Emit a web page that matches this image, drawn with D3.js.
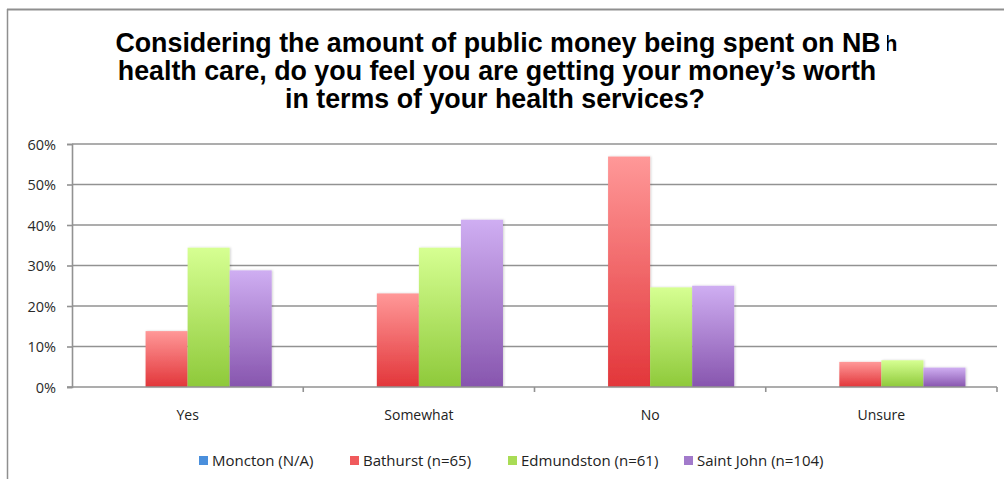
<!DOCTYPE html>
<html>
<head>
<meta charset="utf-8">
<script src="https://cdn.jsdelivr.net/npm/d3@7"></script>
<style>
  html, body { margin: 0; padding: 0; background: #fff; }
  svg { display: block; }
</style>
</head>
<body>
<svg id="chart" width="1004" height="479"></svg>
<script>
// Survey answers and share of respondents per city
const categories = ["Yes", "Somewhat", "No", "Unsure"];
const seriesNames = ["Moncton (N/A)", "Bathurst (n=65)", "Edmundston (n=61)", "Saint John (n=104)"];
const moncton    = [0, 0, 0, 0];
const bathurst   = [13.8, 23.1, 56.9, 6.2];
const edmundston = [34.4, 34.4, 24.6, 6.6];
const saintJohn  = [28.8, 41.3, 25.0, 4.8];
const yTicks = [0, 10, 20, 30, 40, 50, 60];
const titleLines = [
  "Considering the amount of public money being spent on NB",
  "health care, do you feel you are getting your money\u2019s worth",
  "in terms of your health services?"
];

const seriesValues = [moncton, bathurst, edmundston, saintJohn];
const colors = [
  { top: "#7fb6ec", bottom: "#3c7fce", swatch: "#4a8fdc" },
  { top: "#ff9898", bottom: "#e2363a", swatch: "#f05a5c" },
  { top: "#d6ff92", bottom: "#8ec93a", swatch: "#a9dc55" },
  { top: "#cfaef2", bottom: "#8755ae", swatch: "#a27acb" }
];

const svg = d3.select("#chart");
const W = 1004, H = 479;
const m = { left: 72, right: 997, top: 144, bottom: 387 };

// gradients for the bars
const defs = svg.append("defs");
colors.forEach((c, i) => {
  const g = defs.append("linearGradient")
    .attr("id", "grad" + i).attr("x1", 0).attr("y1", 0).attr("x2", 0).attr("y2", 1);
  g.append("stop").attr("offset", "0%").attr("stop-color", c.top);
  g.append("stop").attr("offset", "100%").attr("stop-color", c.bottom);
});
defs.append("filter").attr("id", "shadow")
  .attr("x", "-10%").attr("y", "-10%").attr("width", "130%").attr("height", "130%")
  .append("feDropShadow").attr("dx", 1).attr("dy", 0).attr("stdDeviation", 1)
  .attr("flood-color", "#000").attr("flood-opacity", 0.18);
defs.append("clipPath").attr("id", "hclip")
  .append("rect").attr("x", 887).attr("y", 20).attr("width", 20).attr("height", 40);

// slide frame
svg.append("line").attr("x1", 7).attr("x2", W).attr("y1", 9.5).attr("y2", 9.5)
  .attr("stroke", "#8f8f8f").attr("stroke-width", 2);
svg.append("line").attr("x1", 7.5).attr("x2", 7.5).attr("y1", 9).attr("y2", H)
  .attr("stroke", "#8f8f8f").attr("stroke-width", 1.5);

// title
const titleFont = "Liberation Sans, Arial, sans-serif";
const title = svg.append("text")
  .attr("font-family", titleFont)
  .attr("font-weight", "bold").attr("font-size", 26.8).attr("fill", "#000");
const titleY = [52, 80, 108];
const titleX = [498, 497, 495];
titleLines.forEach((t, i) => {
  title.append("tspan").attr("x", titleX[i]).attr("y", titleY[i])
    .attr("text-anchor", "middle").text(t);
});
// partly hidden trailing letter of the first title line
svg.append("text").attr("x", 884).attr("y", 51)
  .attr("font-family", titleFont).attr("font-weight", "bold").attr("font-size", 22)
  .attr("fill", "#000").attr("clip-path", "url(#hclip)").text("h");

// scales
const x0 = d3.scaleBand().domain(categories).range([m.left, m.right]).paddingInner(0).paddingOuter(0);
const x1 = d3.scaleBand().domain(d3.range(seriesNames.length))
  .range([0, x0.bandwidth()]).paddingOuter(0.75).paddingInner(0);
const y = d3.scaleLinear().domain([0, 60]).range([m.bottom, m.top]);

const font = "Open Sans, Lato, sans-serif";

// gridlines
svg.append("g").selectAll("line").data(yTicks.slice(1)).join("line")
  .attr("x1", m.left).attr("x2", m.right)
  .attr("y1", d => y(d)).attr("y2", d => y(d))
  .attr("stroke", "#929292").attr("stroke-width", 1.6);

// y axis
const yAxis = svg.append("g").attr("transform", `translate(${m.left},0)`)
  .call(d3.axisLeft(y).tickValues(yTicks).tickFormat(d => d + "%").tickSize(5).tickPadding(11));
yAxis.select(".domain").attr("stroke", "#929292").attr("stroke-width", 1.6);
yAxis.selectAll(".tick line").attr("stroke", "#929292").attr("stroke-width", 1.6);
yAxis.selectAll(".tick text").attr("font-family", font).attr("font-size", 14.5)
  .attr("fill", "#2a2a2a").attr("dy", "0.36em");

// bars
const groups = svg.append("g").selectAll("g").data(categories).join("g")
  .attr("transform", d => `translate(${x0(d)},0)`);
groups.selectAll("rect")
  .data((c, ci) => seriesValues.map((vals, si) => ({ si, v: vals[ci] })))
  .join("rect")
  .attr("x", d => x1(d.si))
  .attr("width", x1.bandwidth())
  .attr("y", d => y(d.v))
  .attr("height", d => y(0) - y(d.v))
  .attr("fill", d => `url(#grad${d.si})`)
  .attr("filter", "url(#shadow)");

// x axis
const xAxis = svg.append("g").attr("transform", `translate(0,${m.bottom})`);
xAxis.append("line").attr("x1", m.left - 5).attr("x2", m.right)
  .attr("stroke", "#929292").attr("stroke-width", 1.6);
xAxis.selectAll("line.tk").data(categories).join("line").attr("class", "tk")
  .attr("x1", d => x0(d) + x0.bandwidth()).attr("x2", d => x0(d) + x0.bandwidth())
  .attr("y1", 0).attr("y2", 5).attr("stroke", "#929292").attr("stroke-width", 1.6);
xAxis.selectAll("text").data(categories).join("text")
  .attr("x", d => x0(d) + x0.bandwidth() / 2).attr("y", 33)
  .attr("text-anchor", "middle").attr("font-family", font).attr("font-size", 14)
  .attr("fill", "#222").text(d => d);

// legend
const legendX = [199, 350, 508, 684];
const legend = svg.append("g").selectAll("g").data(seriesNames).join("g")
  .attr("transform", (d, i) => `translate(${legendX[i]},461)`);
legend.append("rect").attr("x", 0).attr("y", -5).attr("width", 9).attr("height", 9)
  .attr("fill", (d, i) => colors[i].swatch);
legend.append("text").attr("x", 13).attr("y", 0).attr("dy", "0.35em")
  .attr("font-family", font).attr("font-size", 15).attr("fill", "#222").text(d => d);
</script>
</body>
</html>
